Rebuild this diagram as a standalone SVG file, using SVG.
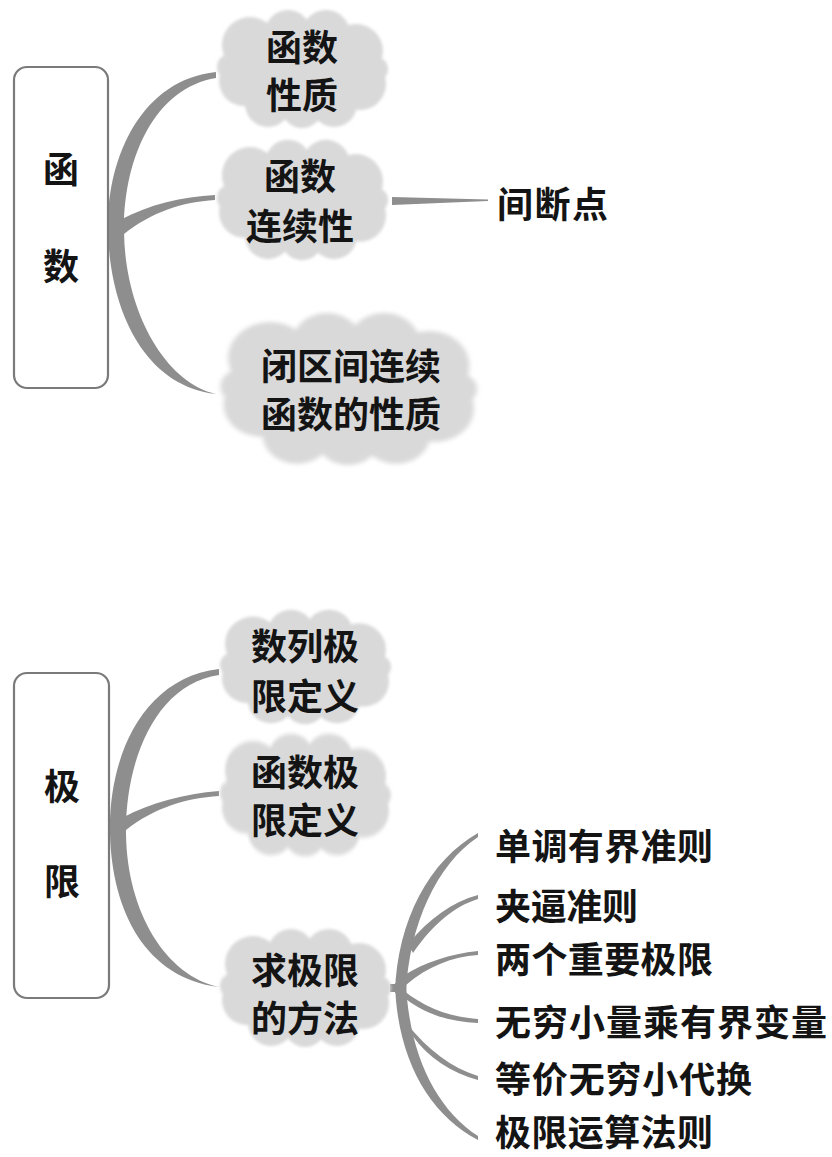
<svg xmlns="http://www.w3.org/2000/svg" xmlns:xlink="http://www.w3.org/1999/xlink" width="832" height="1157" viewBox="0 0 832 1157">
<style>
.t{font-family:"Noto Sans CJK SC","Noto Sans CJK JP",sans-serif;font-weight:700;font-size:36px;fill:#141414}
.c{text-anchor:middle}
.box{fill:#fff;stroke:#7a7a7a;stroke-width:2.2}
.con{fill:#8e8e8e;stroke:none}
.cloud{fill:#d9d9d9}
</style>
<defs>
<filter id="soft" x="-10%" y="-10%" width="120%" height="120%">
<feGaussianBlur stdDeviation="1.8"/>
</filter>
<g id="cloud">
<ellipse cx="0" cy="0" rx="66" ry="44"/>
<circle cx="-52" cy="-24" r="28"/>
<circle cx="-14" cy="-36" r="23"/>
<circle cx="24" cy="-35" r="24"/>
<circle cx="54" cy="-18" r="27"/>
<circle cx="58" cy="15" r="26"/>
<circle cx="32" cy="35" r="23"/>
<circle cx="0" cy="38" r="21"/>
<circle cx="-34" cy="35" r="23"/>
<circle cx="-58" cy="12" r="25"/>
<circle cx="-72" cy="-2" r="13"/>
<circle cx="74" cy="0" r="12"/>
</g>
</defs>

<g id="connectors">
<path class="con" d="M216,72 C140,80 106,160 108,232 C110,310 144,386 216,394 C164,382 125,310 124,232 C123,160 154,88 216,78 Z"/>
<path class="con" d="M120,220 C150,204 182,197 215,195 L215,200 C182,202 152,212 124,234 Z"/>
<path class="con" d="M392,197 L488,199.5 L488,201 L392,205 Z"/>
<path class="con" d="M219,669 C142,678 108,758 110,834 C112,912 146,978 219,987 C166,976 127,912 126,834 C125,760 156,684 219,675 Z"/>
<path class="con" d="M122,818 C152,802 184,794 219,791 L219,796 C186,798 154,808 126,830 Z"/>
<path class="con" d="M390,984 L400,984 L400,992 L390,992 Z"/>
<path class="con" d="M395,993 C397,920 430,860 478,833 L478,837 C437,864 409,925 406,993 Z"/>
<path class="con" d="M395,983 C397,1060 430,1115 478,1140 L478,1136 C437,1110 409,1055 406,983 Z"/>
<path class="con" d="M408,944 C430,918 452,902 478,895 L478,899 C455,906 433,924 413,953 Z"/>
<path class="con" d="M403,976 C425,962 450,954 478,951 L478,955 C452,957 428,966 406,985 Z"/>
<path class="con" d="M403,990 C425,1008 450,1017 478,1019 L478,1023 C450,1022 425,1014 406,999 Z"/>
<path class="con" d="M407,1024 C428,1050 452,1068 478,1076 L478,1080 C452,1073 428,1058 412,1035 Z"/>
</g>

<g id="node-hanshu">
<rect class="box" x="14" y="67" width="94" height="321" rx="13"/>
<text class="t c" x="61" y="183">函</text>
<text class="t c" x="61" y="280">数</text>
</g>

<g id="node-xingzhi">
<use xlink:href="#cloud" class="cloud" filter="url(#soft)" transform="translate(302,69)"/>
<text class="t c"><tspan x="302" y="61">函数</tspan><tspan x="302" y="109">性质</tspan></text>
</g>

<g id="node-lianxu">
<use xlink:href="#cloud" class="cloud" filter="url(#soft)" transform="translate(302,200) scale(1,1.02)"/>
<text class="t c"><tspan x="300" y="190">函数</tspan><tspan x="300" y="240">连续性</tspan></text>
</g>

<g id="node-jianduan">
<text class="t" x="497" y="218" textLength="111" lengthAdjust="spacing">间断点</text>
</g>

<g id="node-bi">
<use xlink:href="#cloud" class="cloud" filter="url(#soft)" transform="translate(348,389) scale(1.5,1.29)"/>
<text class="t c"><tspan x="351" y="380">闭区间连续</tspan><tspan x="351" y="428">函数的性质</tspan></text>
</g>

<g id="node-jixian">
<rect class="box" x="14" y="673" width="95" height="325" rx="13"/>
<text class="t c" x="62" y="800">极</text>
<text class="t c" x="62" y="895">限</text>
</g>

<g id="node-shulie">
<use xlink:href="#cloud" class="cloud" filter="url(#soft)" transform="translate(305,667) scale(1,0.97)"/>
<text class="t c"><tspan x="305" y="660">数列极</tspan><tspan x="305" y="710">限定义</tspan></text>
</g>

<g id="node-hanshujixian">
<use xlink:href="#cloud" class="cloud" filter="url(#soft)" transform="translate(305,795) scale(1,1.04)"/>
<text class="t c"><tspan x="305" y="786">函数极</tspan><tspan x="305" y="834">限定义</tspan></text>
</g>

<g id="node-fangfa">
<use xlink:href="#cloud" class="cloud" filter="url(#soft)" transform="translate(305,988)"/>
<text class="t c"><tspan x="305" y="984">求极限</tspan><tspan x="305" y="1032">的方法</tspan></text>
</g>

<g id="node-methods">
<text class="t" x="495" y="860" textLength="218" lengthAdjust="spacing">单调有界准则</text>
<text class="t" x="495" y="920" textLength="143" lengthAdjust="spacing">夹逼准则</text>
<text class="t" x="495" y="973" textLength="218" lengthAdjust="spacing">两个重要极限</text>
<text class="t" x="495" y="1036" textLength="332" lengthAdjust="spacing">无穷小量乘有界变量</text>
<text class="t" x="495" y="1093" textLength="257" lengthAdjust="spacing">等价无穷小代换</text>
<text class="t" x="495" y="1146" textLength="218" lengthAdjust="spacing">极限运算法则</text>
</g>
</svg>
